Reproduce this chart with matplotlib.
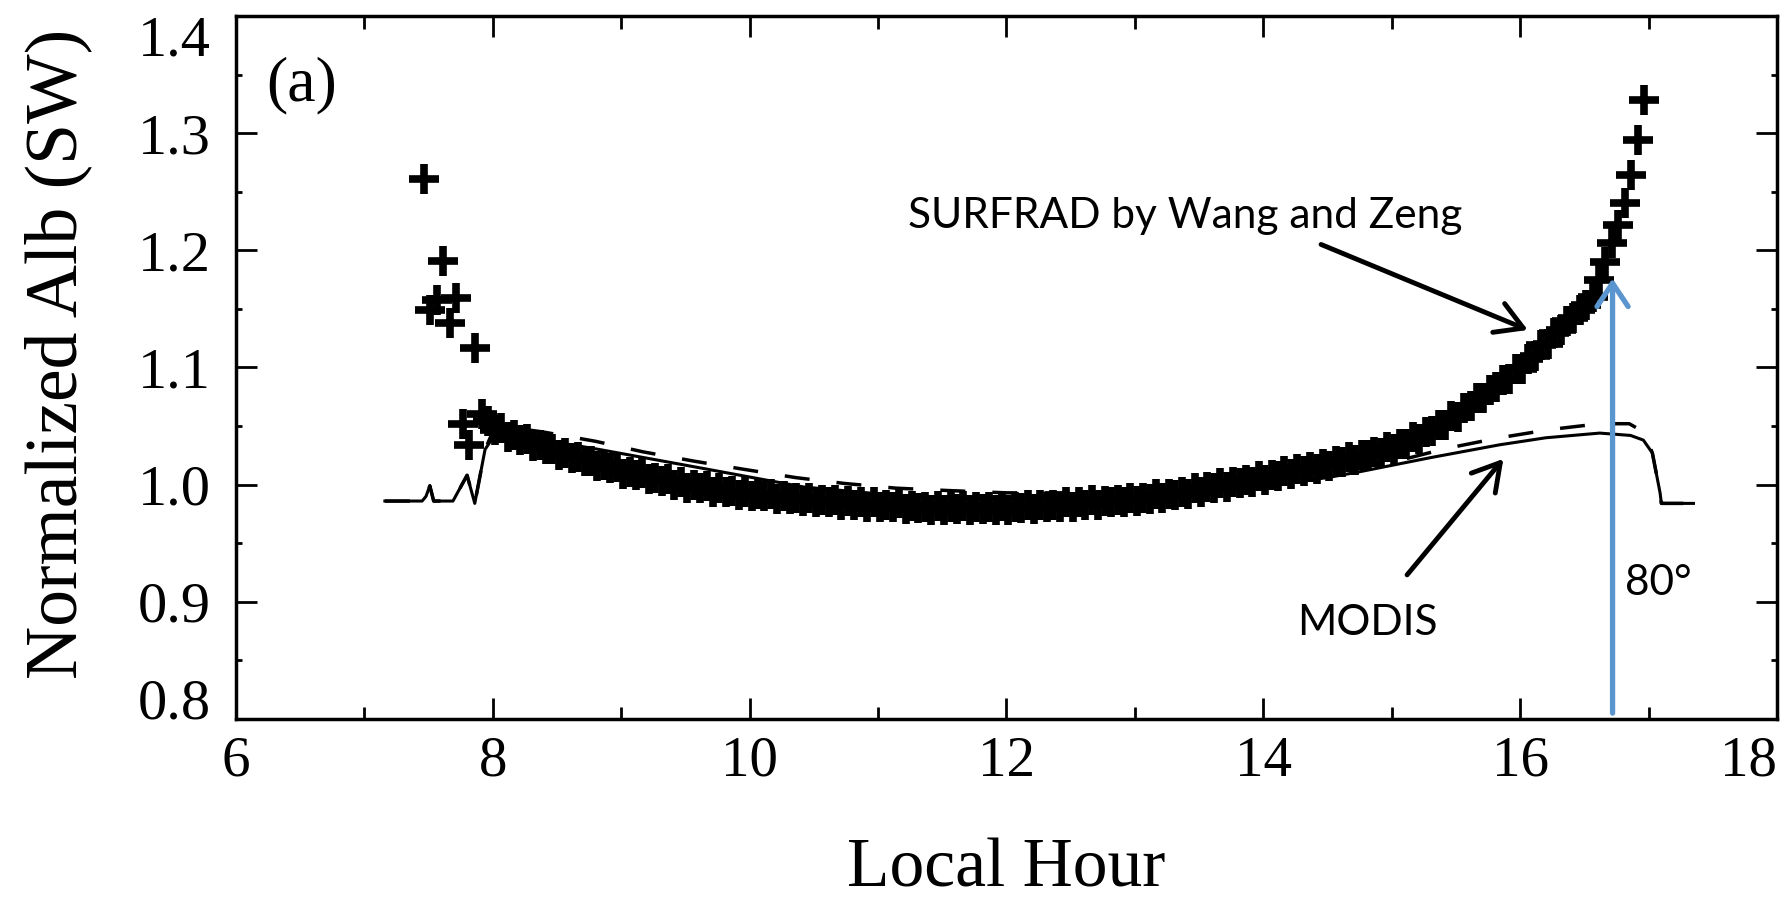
import numpy as np
import matplotlib
matplotlib.use('Agg')
import matplotlib.pyplot as plt
from matplotlib.ticker import MultipleLocator


# SURFRAD normalized SW albedo, one value every 3 minutes starting at 7.465 h
surfrad_start, surfrad_step = 7.465, 0.05
surfrad_alb = [
    1.261, 1.149, 1.158, 1.191, 1.138, 1.159, 1.052, 1.034, 1.117, 1.060,
    1.054, 1.047, 1.048, 1.041, 1.042, 1.038, 1.039, 1.033, 1.034, 1.030, 1.030,
    1.025, 1.027, 1.023, 1.024, 1.020, 1.020, 1.016, 1.017, 1.014, 1.015,
    1.009, 1.011, 1.008, 1.010, 1.005, 1.006, 1.003, 1.005, 1.000, 1.002,
    0.997, 1.000, 0.997, 0.999, 0.994, 0.997, 0.994, 0.995, 0.991, 0.994,
    0.990, 0.992, 0.990, 0.992, 0.988, 0.990, 0.988, 0.989, 0.986, 0.989,
    0.985, 0.987, 0.985, 0.987, 0.983, 0.986, 0.983, 0.985, 0.981, 0.985,
    0.981, 0.983, 0.981, 0.984, 0.979, 0.982, 0.980, 0.981, 0.978, 0.982,
    0.978, 0.981, 0.979, 0.982, 0.978, 0.981, 0.979, 0.981, 0.978, 0.982,
    0.978, 0.981, 0.980, 0.983, 0.979, 0.983, 0.981, 0.983, 0.981, 0.985,
    0.981, 0.985, 0.983, 0.987, 0.983, 0.986, 0.985, 0.987, 0.985, 0.989,
    0.986, 0.989, 0.988, 0.992, 0.989, 0.992, 0.991, 0.994, 0.992, 0.997,
    0.994, 0.998, 0.997, 1.001, 0.998, 1.002, 1.001, 1.004, 1.002, 1.007,
    1.004, 1.008, 1.007, 1.012, 1.009, 1.013, 1.012, 1.015, 1.013, 1.018,
    1.016, 1.020, 1.019, 1.024, 1.021, 1.025, 1.025, 1.028, 1.027, 1.032,
    1.030, 1.035, 1.035, 1.041, 1.039, 1.045, 1.046, 1.051, 1.051, 1.059,
    1.058, 1.065, 1.067, 1.074, 1.074, 1.081, 1.083, 1.089, 1.090, 1.099,
    1.099, 1.107, 1.110, 1.119, 1.120, 1.129, 1.132, 1.140, 1.142, 1.149,
    1.153, 1.160, 1.175, 1.190, 1.206, 1.222, 1.240, 1.264, 1.294, 1.328,
]
surfrad_hours = surfrad_start + surfrad_step * np.arange(len(surfrad_alb))

# MODIS normalized albedo (solid curve)
modis_hours = [7.16, 7.45, 7.48, 7.51, 7.54, 7.69, 7.80, 7.86, 7.94, 8.00,
               8.05, 8.40, 8.83, 9.63, 10.42, 11.22, 11.78, 12.50, 13.00,
               13.50, 14.00, 14.50, 14.75, 15.30, 15.84, 16.20, 16.62,
               16.86, 16.96, 17.03, 17.09, 17.10, 17.35]
modis_alb = [0.986, 0.986, 0.990, 0.999, 0.986, 0.986, 1.008, 0.984, 1.030, 1.040,
             1.044, 1.038, 1.030, 1.014, 0.998, 0.990, 0.988, 0.988, 0.990,
             0.994, 0.999, 1.006, 1.011, 1.023, 1.034, 1.040, 1.044,
             1.042, 1.038, 1.027, 0.993, 0.984, 0.984]

# MODIS normalized albedo (dashed curve)
modis2_hours = [7.16, 7.45, 7.48, 7.51, 7.54, 7.69, 7.80, 7.86, 7.94, 8.00,
                8.05, 8.39, 8.80, 9.17, 9.57, 9.96, 10.36, 10.74, 11.14,
                11.54, 12.00, 12.50, 13.00, 13.50, 14.00, 14.50, 15.07,
                15.43, 15.84, 16.23, 16.62, 16.85, 16.93, 17.00, 17.03,
                17.09, 17.10, 17.35]
modis2_alb = [0.986, 0.986, 0.990, 0.999, 0.986, 0.986, 1.008, 0.984, 1.030, 1.045,
              1.050, 1.045, 1.037, 1.028, 1.020, 1.013, 1.006, 1.001, 0.997,
              0.995, 0.993, 0.993, 0.995, 0.998, 1.004, 1.012, 1.021,
              1.031, 1.040, 1.047, 1.052, 1.052, 1.047, 1.035, 1.027,
              0.993, 0.984, 0.984]

sza80_hour = 16.72

x_ticks = [6, 8, 10, 12, 14, 16, 18]
y_ticks = [0.8, 0.9, 1.0, 1.1, 1.2, 1.3, 1.4]
y_ticklabels = ['0.8', '0.9', '1.0', '1.1', '1.2', '1.3', '1.4']

plt.rcParams['font.family'] = 'Liberation Serif'

fig = plt.figure(figsize=(17.9, 9.02), dpi=100)
ax = fig.add_axes([0.1318, 0.2029, 0.8609, 0.7794])

ax.plot(modis_hours, modis_alb, color='black', lw=2.2, zorder=2)
ax.plot(modis2_hours, modis2_alb, color='black', lw=2.5, dashes=(7.2, 7.8), zorder=2)
ax.plot(surfrad_hours, surfrad_alb, linestyle='none', marker='+', ms=21, mew=5.5,
        color='black', zorder=3)

ax.set_xlim(6, 18)
ax.set_ylim(0.8, 1.4)
ax.set_xticks(x_ticks)
ax.xaxis.set_minor_locator(MultipleLocator(1))
ax.set_yticks(y_ticks)
ax.set_yticklabels(y_ticklabels)
ax.yaxis.set_minor_locator(MultipleLocator(0.05))

ax.tick_params(which='both', direction='in', top=True, right=True, width=2)
ax.tick_params(axis='x', which='major', length=15, labelsize=41, pad=12)
ax.tick_params(axis='x', which='minor', length=9)
ax.tick_params(axis='y', which='major', length=15, labelsize=42, pad=18)
ax.tick_params(axis='y', which='minor', length=4)
for side in ax.spines.values():
    side.set_linewidth(2.5)

# keep the end labels inside the frame
ax.get_xticklabels()[-1].set_ha('right')
ax.get_yticklabels()[0].set_va('baseline')
ax.get_yticklabels()[-1].set_va('top')

ax.set_xlabel('Local Hour', fontsize=50)
ax.xaxis.label.set_va('baseline')
ax.xaxis.set_label_coords(0.5, -0.238)
ax.set_ylabel('Normalized Alb (SW)', fontsize=53)
ax.yaxis.set_label_coords(-0.093, 0.52)

ax.text(6.234, 1.328, '(a)', fontsize=46, va='baseline')

# annotations
note_font = dict(family='Lato', fontsize=30.5, color='black', va='baseline')
ax.text(11.234, 1.219, 'SURFRAD by Wang and Zeng', **note_font)
ax.text(14.263, 0.872, 'MODIS', **note_font)
ax.text(16.818, 0.906, '80°', **note_font)

black_arrow = dict(arrowstyle='->,head_length=0.6,head_width=0.35', color='black',
                   lw=3.5, shrinkA=0, shrinkB=0, mutation_scale=32)
ax.annotate('', xy=(16.06, 1.132), xytext=(14.45, 1.205), arrowprops=black_arrow)
ax.annotate('', xy=(15.87, 1.022), xytext=(15.12, 0.923), arrowprops=black_arrow)
ax.annotate('', xy=(sza80_hour, 1.176), xytext=(sza80_hour, 0.805),
            arrowprops=dict(arrowstyle='->,head_length=0.6,head_width=0.4',
                            color='#5b95cf', lw=3.8, shrinkA=0, shrinkB=0,
                            mutation_scale=28), zorder=4)

fig.savefig('out.png', dpi=100, facecolor='white')
plt.close(fig)
